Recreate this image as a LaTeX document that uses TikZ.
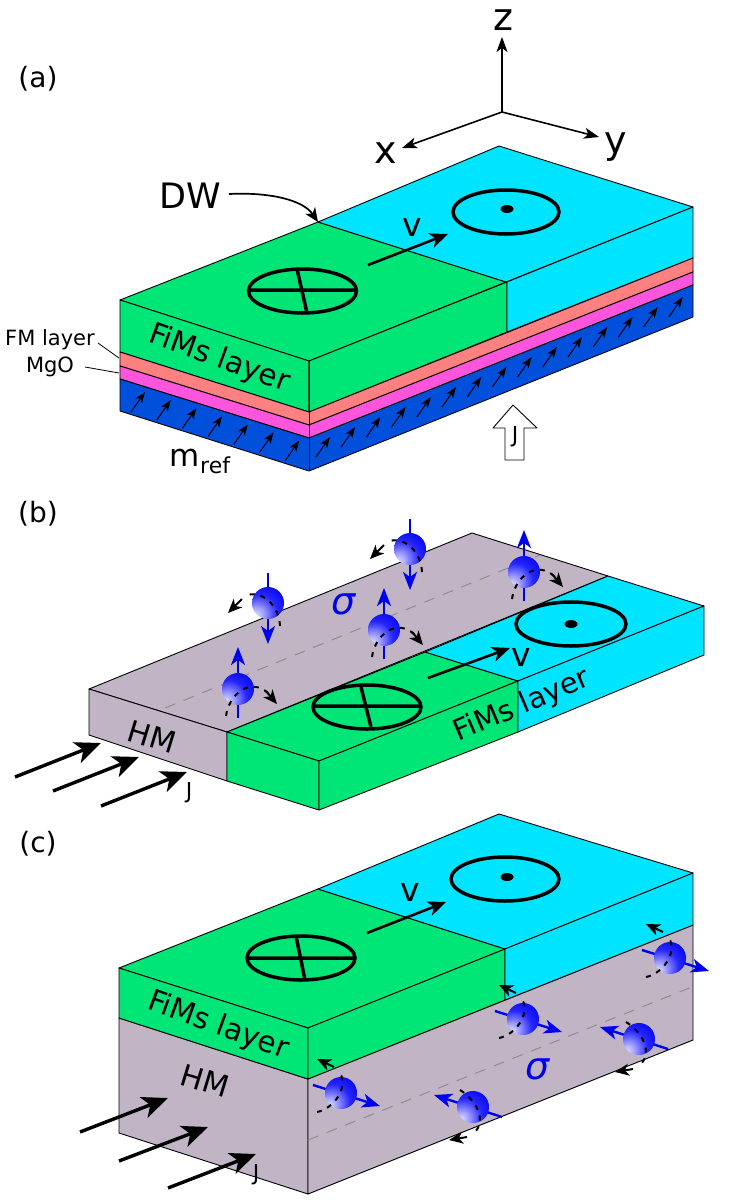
\documentclass[tikz,border=0pt]{standalone}
\usepackage{fontspec}
\setmainfont{DejaVu Sans}
\usetikzlibrary{arrows.meta}
\definecolor{fimgreen}{RGB}{0,230,118}
\definecolor{fimcyan}{RGB}{0,229,255}
\definecolor{fmred}{RGB}{255,128,128}
\definecolor{mgomag}{RGB}{255,85,221}
\definecolor{refblue}{RGB}{0,80,220}
\definecolor{hmgray}{RGB}{193,181,197}
\definecolor{spinblue}{RGB}{0,0,240}
\pgfdeclareradialshading{spinball}{\pgfpoint{-20bp}{-20bp}}{%
  color(0bp)=(white!90!blue); color(12bp)=(blue!40!white); color(28bp)=(blue!85!white); color(46bp)=(spinblue); color(100bp)=(spinblue)}
\newcommand{\fs}[1]{\fontsize{#1}{#1}\selectfont}
\tikzset{
  x=1pt,y=-1pt,
  face/.style={draw=black,line width=0.9pt,line join=round},
  ringline/.style={draw=black,line width=3.5pt},
  veloc/.style={black,line width=2.6pt,-{Stealth[length=18pt,width=15pt,inset=5pt]}},
  curr/.style={black,line width=3.4pt,-{Stealth[length=26pt,width=22pt,inset=7pt]}},
  magn/.style={black,line width=1pt,-{Stealth[length=11pt,width=8pt,inset=3pt]}},
  axisarrow/.style={black,line width=1.6pt,-{Stealth[length=15pt,width=11pt,inset=4pt]}},
  spinarrow/.style={spinblue,line width=2.4pt,-{Stealth[length=18pt,width=14pt,inset=5pt]}},
  dashcurve/.style={black,line width=2pt,dash pattern=on 5pt off 6pt},
  dashhead/.style={black,line width=2pt,-{Stealth[length=14pt,width=12pt,inset=4pt]}},
  centreline/.style={draw=black!45,line width=1pt,dash pattern=on 11pt off 9pt},
  spinup/.pic={
    \draw[spinarrow] (0,29) -- (0,-42);
    \shade[shading=spinball] (0,0) circle[radius=16pt];
    \draw[dashcurve] (-12,27) .. controls (-9,5) and (12,-12) .. (30,4);
    \draw[dashhead] (28,2) -- (39,15);
  },
  spindown/.pic={
    \draw[spinarrow] (0,-30) -- (0,41);
    \shade[shading=spinball] (0,0) circle[radius=16pt];
    \draw[dashcurve] (12,23) .. controls (11,2) and (-6,-14) .. (-24,-7);
    \draw[dashhead] (-26,-4) -- (-40,10);
  },
  spinright/.pic={
    \draw[spinarrow] (-28,-8) -- (39,13);
    \shade[shading=spinball] (0,0) circle[radius=16pt];
    \draw[dashcurve] (-24,19) .. controls (-8,16) and (8,-5) .. (-1,-20);
    \draw[dashhead] (-7,-26) -- (-24,-34);
  },
  spinleft/.pic={
    \draw[spinarrow] (29,10) -- (-39,-12);
    \shade[shading=spinball] (0,0) circle[radius=16pt];
    \draw[dashcurve] (-13,-17) .. controls (2,-8) and (14,12) .. (2,25);
    \draw[dashhead] (-6,30) -- (-24,33);
  }
}
\begin{document}
\begin{tikzpicture}
\useasboundingbox (0,0) rectangle (747,1200);

% ---------- panel (a) ----------
\node (la) at (38,79) {\fs{28}(a)};
\coordinate (orig) at (502,112);
\draw[axisarrow] (orig) -- (402,148);
\draw[axisarrow] (orig) -- (599,137);
\draw[axisarrow] (orig) -- (502,37);
\node (zl) at (503,20) {\fs{38}z};
\node (xl) at (386,153) {\fs{38}x};
\node (yl) at (616,147) {\fs{38}y};

\filldraw[face,fill=fimgreen] (120,300) -- (318,222) -- (506,282) -- (309,361) -- cycle;
\filldraw[face,fill=fimcyan] (318,222) -- (499,146) -- (693,207) -- (506,282) -- cycle;
\filldraw[face,fill=fimgreen] (120,300) -- (309,361) -- (309,412) -- (120,352) -- cycle;
\filldraw[face,fill=fimgreen] (309,361) -- (507,282) -- (507,332) -- (309,412) -- cycle;
\filldraw[face,fill=fimcyan] (507,282) -- (693,207) -- (693,258) -- (507,332) -- cycle;
\filldraw[face,fill=fmred] (120,352) -- (309,412) -- (693,258) -- (693,272) -- (309,425) -- (120,366) -- cycle;
\filldraw[face,fill=mgomag] (120,366) -- (309,425) -- (693,272) -- (693,285) -- (309,438) -- (120,379) -- cycle;
\filldraw[face,fill=refblue] (120,379) -- (309,438) -- (693,285) -- (693,317) -- (309,471) -- (120,411) -- cycle;
\draw[line width=0.9pt] (309,361) -- (309,471);
\foreach \i in {0,...,6} \draw[magn] ({131+25.7*\i},{412+8.1*\i}) -- ++(14,-20);
\foreach \i in {0,...,14} \draw[magn] ({316+25.2*\i},{457-10*\i}) -- ++(14,-20);

\draw[ringline] (302.5,291) ellipse[x radius=54pt,y radius=22pt];
\draw[ringline] (248,290) -- (357,290) (297,269) -- (307,313);
\draw[ringline] (506,212) ellipse[x radius=53pt,y radius=22pt];
\fill[black] (507,209) ellipse[x radius=6.5pt,y radius=4pt];
\draw[veloc] (368,265) -- (448,234);
\node (va) at (412,227) {\fs{33}v};
\node (dw) at (190,196) {\fs{35}DW};
\draw[black,line width=1.7pt,-{Stealth[length=14pt,width=12pt,inset=4pt]}] (229,194) .. controls (270,192) and (303,200) .. (318,222);
\node[rotate=-20] (fa) at (219,359) {\fs{29.5}FiMs layer};
\node (fml) at (50,340) {\fs{21}FM layer};
\node (mgo) at (50,367) {\fs{21}MgO};
\draw[line width=0.8pt] (98,343) -- (119,358);
\draw[line width=0.8pt] (85,367) -- (119,373);
\node (mref) at (200,461) {\fs{31}m\raisebox{-7pt}{\fs{22}ref}};
\filldraw[draw=black,fill=white,line width=0.9pt,line join=round] (513,405) -- (537,428) -- (524,428) -- (524,460) -- (505,460) -- (505,428) -- (493,428) -- cycle;
\node (ja) at (515,437) {\fs{22}J};

% ---------- panel (b) ----------
\node (lb) at (38,514) {\fs{28}(b)};
\filldraw[face,fill=hmgray] (89,689) -- (472,533) -- (608,576) -- (227,732) -- cycle;
\filldraw[face,fill=hmgray] (89,689) -- (227,732) -- (227,781) -- (89,735) -- cycle;
\filldraw[face,fill=fimgreen] (227,732) -- (425,652) -- (518,681) -- (319,761) -- cycle;
\filldraw[face,fill=fimcyan] (425,652) -- (608,576) -- (704,606) -- (518,681) -- cycle;
\filldraw[face,fill=fimgreen] (227,732) -- (319,761) -- (319,810) -- (227,781) -- cycle;
\filldraw[face,fill=fimgreen] (319,761) -- (518,681) -- (518,732) -- (319,810) -- cycle;
\filldraw[face,fill=fimcyan] (518,681) -- (704,606) -- (704,655) -- (518,732) -- cycle;
\draw[centreline] (165,708) -- (540,555);
\pic at (268,603) {spindown};
\pic at (410,549) {spindown};
\pic at (238,689) {spinup};
\pic at (384,630) {spinup};
\pic at (524,572) {spinup};
\node[spinblue] (sb) at (344,604) {\fs{38}\itshape σ};
\draw[ringline] (367,707) ellipse[x radius=54pt,y radius=22pt];
\draw[ringline] (313,706) -- (421,706) (361,687) -- (371,727);
\draw[ringline] (571,624) ellipse[x radius=55pt,y radius=22pt];
\fill[black] (571,624) ellipse[x radius=6.5pt,y radius=4pt];
\draw[veloc] (428,678) -- (510,648);
\node (vb) at (521,657) {\fs{33}v};
\node[rotate=23] (fb) at (522,706) {\fs{29}FiMs layer};
\node[rotate=-17] (hb) at (152,737) {\fs{30}HM};
\draw[curr] (15,777) -- (101,743);
\draw[curr] (53,791) -- (139,757);
\draw[curr] (101,806) -- (187,772);
\node (jb) at (189,793) {\fs{22}J};

% ---------- panel (c) ----------
\node (lc) at (38,844) {\fs{28}(c)};
\filldraw[face,fill=hmgray] (119,1018) -- (308,1079) -- (308,1194) -- (119,1133) -- cycle;
\filldraw[face,fill=hmgray] (308,1079) -- (693,925) -- (693,1040) -- (308,1194) -- cycle;
\filldraw[face,fill=fimgreen] (119,968) -- (318,889) -- (505,949) -- (308,1028) -- cycle;
\filldraw[face,fill=fimcyan] (318,889) -- (499,814) -- (693,873) -- (505,949) -- cycle;
\filldraw[face,fill=fimgreen] (119,968) -- (308,1028) -- (308,1079) -- (119,1018) -- cycle;
\filldraw[face,fill=fimgreen] (308,1028) -- (505,949) -- (505,1000) -- (308,1079) -- cycle;
\filldraw[face,fill=fimcyan] (505,949) -- (693,873) -- (693,925) -- (505,1000) -- cycle;
\draw[centreline] (308,1140) -- (692,987);
\pic at (341,1093) {spinright};
\pic at (523,1019) {spinright};
\pic at (670,958) {spinright};
\pic at (473,1107) {spinleft};
\pic at (639,1039) {spinleft};
\node[spinblue] (sc) at (538,1069) {\fs{38}\itshape σ};
\draw[ringline] (301,958) ellipse[x radius=54pt,y radius=22pt];
\draw[ringline] (247,958) -- (356,958) (296,936) -- (305,980);
\draw[ringline] (505,879) ellipse[x radius=54pt,y radius=22pt];
\fill[black] (507,877) ellipse[x radius=6.5pt,y radius=4pt];
\draw[veloc] (367,933) -- (446,902);
\node (vc) at (410,892) {\fs{33}v};
\node[rotate=-20] (fc) at (218,1026) {\fs{29.5}FiMs layer};
\node[rotate=-17] (hc) at (205,1081) {\fs{30}HM};
\draw[curr] (80,1132) -- (168,1098);
\draw[curr] (119,1161) -- (208,1127);
\draw[curr] (168,1188) -- (256,1154);
\node (jc) at (256,1175) {\fs{22}J};
\end{tikzpicture}
\end{document}
